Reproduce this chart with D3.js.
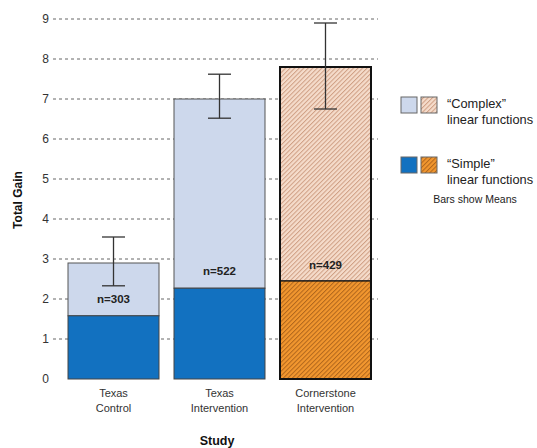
<!DOCTYPE html>
<html>
<head>
<meta charset="utf-8">
<script src="https://cdn.jsdelivr.net/npm/d3@7"></script>
<style>
  body { margin: 0; background: #fff; }
  text { font-family: "Liberation Sans", Arial, sans-serif; }
</style>
</head>
<body>
<div id="container"></div>
<script>
/* DATA */
const studies = ["Texas Control", "Texas Intervention", "Cornerstone Intervention"];
const studyLines = [["Texas", "Control"], ["Texas", "Intervention"], ["Cornerstone", "Intervention"]];
const simpleMeans = [1.58, 2.27, 2.45];
const totalMeans = [2.9, 7.0, 7.8];
const errLow = [2.33, 6.52, 6.75];
const errHigh = [3.55, 7.62, 8.9];
const sampleSizes = ["n=303", "n=522", "n=429"];
const nLabelY = [2.0, 2.7, 2.85];
const yTicks = [0, 1, 2, 3, 4, 5, 6, 7, 8, 9];

/* CONSTANTS */
const width = 537, height = 448;

const svg = d3.select("#container")
  .append("svg")
  .attr("width", width)
  .attr("height", height);

// hatch patterns
const defs = svg.append("defs");
function hatch(id, bg, line) {
  const p = defs.append("pattern")
    .attr("id", id)
    .attr("patternUnits", "userSpaceOnUse")
    .attr("width", 3.2).attr("height", 3.2)
    .attr("patternTransform", "rotate(45)");
  p.append("rect").attr("width", 3.2).attr("height", 3.2).attr("fill", bg);
  p.append("line").attr("x1", 0.5).attr("y1", 0).attr("x2", 0.5).attr("y2", 3.2)
    .attr("stroke", line).attr("stroke-width", 1);
}
hatch("hatchLight", "#f5dccb", "#cf9f84");
hatch("hatchOrange", "#f2972f", "#b0661c");

/* SCALES */
const yScale = d3.scaleLinear()
  .domain([0, 9])
  .range([379, 19]);

const xScale = d3.scaleBand()
  .domain(studies)
  .range([60.5, 378.5])
  .paddingInner(0.1415)
  .paddingOuter(0.0708);

// grid
svg.append("g")
  .selectAll("line")
  .data(yTicks.filter(d => d > 0))
  .join("line")
  .attr("x1", 53).attr("x2", 378)
  .attr("y1", d => yScale(d)).attr("y2", d => yScale(d))
  .attr("stroke", "#666")
  .attr("stroke-width", 1)
  .attr("stroke-dasharray", "3,3");

// y tick labels
const yAxis = d3.axisLeft(yScale).tickValues(yTicks).tickSize(0).tickPadding(0);
svg.append("g")
  .attr("transform", "translate(49,0)")
  .call(yAxis)
  .call(g => g.select(".domain").remove())
  .call(g => g.selectAll("text")
    .attr("font-family", "Liberation Sans, Arial, sans-serif")
    .attr("font-size", 12).attr("fill", "#333"));

// bars
const isCorner = i => i === 2;
const bars = svg.append("g").selectAll("g")
  .data(studies)
  .join("g");

// complex (upper) part
bars.append("rect")
  .attr("x", d => xScale(d))
  .attr("width", xScale.bandwidth())
  .attr("y", (d, i) => yScale(totalMeans[i]))
  .attr("height", (d, i) => yScale(simpleMeans[i]) - yScale(totalMeans[i]))
  .attr("fill", (d, i) => isCorner(i) ? "url(#hatchLight)" : "#cdd8ec")
  .attr("stroke", (d, i) => isCorner(i) ? "#111" : "#555")
  .attr("stroke-width", (d, i) => isCorner(i) ? 1.2 : 1);

// simple (lower) part
bars.append("rect")
  .attr("x", d => xScale(d))
  .attr("width", xScale.bandwidth())
  .attr("y", (d, i) => yScale(simpleMeans[i]))
  .attr("height", (d, i) => yScale(0) - yScale(simpleMeans[i]))
  .attr("fill", (d, i) => isCorner(i) ? "url(#hatchOrange)" : "#1271c0")
  .attr("stroke", (d, i) => isCorner(i) ? "#111" : "#444")
  .attr("stroke-width", (d, i) => isCorner(i) ? 1.2 : 1);

// thick outline for Cornerstone
bars.filter((d, i) => isCorner(i))
  .append("rect")
  .attr("x", d => xScale(d))
  .attr("width", xScale.bandwidth())
  .attr("y", yScale(totalMeans[2]))
  .attr("height", yScale(0) - yScale(totalMeans[2]))
  .attr("fill", "none")
  .attr("stroke", "#111")
  .attr("stroke-width", 2);

// n labels
bars.append("text")
  .attr("x", d => xScale(d) + xScale.bandwidth() / 2)
  .attr("y", (d, i) => yScale(nLabelY[i]))
  .attr("text-anchor", "middle")
  .attr("dy", "0.35em")
  .attr("font-size", 11.5)
  .attr("font-weight", "bold")
  .attr("fill", "#222")
  .text((d, i) => sampleSizes[i]);

// error bars
const capW = 11.5;
const err = svg.append("g").attr("stroke", "#333").attr("stroke-width", 1.3);
studies.forEach((d, i) => {
  const cx = xScale(d) + xScale.bandwidth() / 2;
  err.append("line").attr("x1", cx).attr("x2", cx)
    .attr("y1", yScale(errLow[i])).attr("y2", yScale(errHigh[i]));
  err.append("line").attr("x1", cx - capW).attr("x2", cx + capW)
    .attr("y1", yScale(errLow[i])).attr("y2", yScale(errLow[i]));
  err.append("line").attr("x1", cx - capW).attr("x2", cx + capW)
    .attr("y1", yScale(errHigh[i])).attr("y2", yScale(errHigh[i]));
});

// x category labels
const xl = svg.append("g").selectAll("text")
  .data(studies)
  .join("text")
  .attr("x", d => xScale(d) + xScale.bandwidth() / 2)
  .attr("y", 397)
  .attr("text-anchor", "middle")
  .attr("font-size", 11)
  .attr("fill", "#333");
xl.selectAll("tspan")
  .data((d, i) => studyLines[i])
  .join("tspan")
  .attr("x", function () { return this.parentNode.getAttribute("x"); })
  .attr("dy", (d, j) => j === 0 ? 0 : 14.5)
  .text(d => d);

// axis titles
svg.append("text")
  .attr("x", 217).attr("y", 445)
  .attr("text-anchor", "middle")
  .attr("font-size", 12.5).attr("font-weight", "bold").attr("fill", "#111")
  .text("Study");

svg.append("text")
  .attr("transform", "translate(22,200) rotate(-90)")
  .attr("text-anchor", "middle")
  .attr("font-size", 12).attr("font-weight", "bold").attr("fill", "#111")
  .text("Total Gain");

// legend
const legend = svg.append("g");
const legendRows = [
  { y: 97, fills: ["#cdd8ec", "url(#hatchLight)"], lines: ["\u201cComplex\u201d", "linear functions"] },
  { y: 157, fills: ["#1271c0", "url(#hatchOrange)"], lines: ["\u201cSimple\u201d", "linear functions"] }
];
legendRows.forEach(r => {
  r.fills.forEach((f, j) => {
    legend.append("rect")
      .attr("x", 401).attr("y", r.y)
      .attr("x", 401 + j * 20)
      .attr("width", 16).attr("height", 16)
      .attr("fill", f).attr("stroke", "#666").attr("stroke-width", 1);
  });
  r.lines.forEach((t, j) => {
    legend.append("text")
      .attr("x", 447).attr("y", r.y + 11 + j * 15.5)
      .attr("font-size", 12.8).attr("fill", "#222")
      .text(t);
  });
});
legend.append("text")
  .attr("x", 475).attr("y", 203)
  .attr("text-anchor", "middle")
  .attr("font-size", 10.5).attr("fill", "#222")
  .text("Bars show Means");
</script>
</body>
</html>
